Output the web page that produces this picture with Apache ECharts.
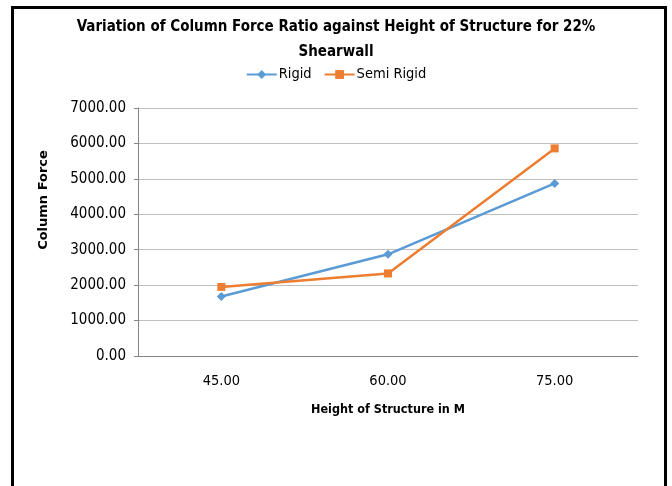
<!DOCTYPE html>
<html><head><meta charset="utf-8">
<script src="https://cdn.jsdelivr.net/npm/echarts@6/dist/echarts.min.js"></script>
<style>html,body{margin:0;padding:0;background:#fff}#c{width:672px;height:486px}</style>
</head><body><div id="c"></div>
<script>
const categories = ['45.00', '60.00', '75.00'];
const rigid = [1680, 2870, 4870];
const semiRigid = [1950, 2330, 5860];
const yTicks = [0, 1000, 2000, 3000, 4000, 5000, 6000, 7000];
const FONT = "'Liberation Sans Narrow', 'DejaVu Sans Condensed', sans-serif";

const chart = echarts.init(document.getElementById('c'), null, {renderer: 'canvas'});
chart.setOption({
  backgroundColor: '#fff',
  animation: false,
  title: {
    text: 'Variation of Column Force Ratio against Height of Structure for 22%\nShearwall',
    left: 'center', top: 10,
    textStyle: {fontFamily: FONT, fontSize: 15, fontWeight: 'bold', color: '#000', lineHeight: 25}
  },
  legend: {
    top: 62, left: 'center', itemWidth: 30, itemHeight: 11, itemGap: 12,
    textStyle: {fontFamily: FONT, fontSize: 14.5, color: '#000', padding: [0,0,0,-3]},
    data: ['Rigid', 'Semi Rigid']
  },
  grid: {left: 138, right: 34, top: 108, bottom: 130},
  xAxis: {
    type: 'category', data: categories,
    axisLine: {lineStyle: {color: '#868686'}},
    axisTick: {show: false},
    axisLabel: {fontFamily: FONT, fontSize: 14.5, color: '#000', margin: 18},
    name: 'Height of Structure in M', nameLocation: 'middle', nameGap: 47,
    nameTextStyle: {fontFamily: FONT, fontSize: 12.5, fontWeight: 'bold', color: '#000'}
  },
  yAxis: {
    type: 'value', min: yTicks[0], max: yTicks[yTicks.length-1], interval: 1000,
    axisLine: {show: true, lineStyle: {color: '#868686'}},
    axisTick: {show: true, length: 4, lineStyle: {color: '#868686'}},
    splitLine: {lineStyle: {color: '#bfbfbf'}},
    axisLabel: {fontFamily: FONT, fontSize: 15, color: '#000', margin: 12, formatter: v => v.toFixed(2)},
    name: 'Column Force', nameLocation: 'middle', nameGap: 88,
    nameTextStyle: {fontFamily: "'DejaVu Sans', sans-serif", fontSize: 13, fontWeight: 'bold', color: '#000', padding: [0,0,0,64]}
  },
  series: [
    {name: 'Rigid', type: 'line', data: rigid, symbol: 'diamond', symbolSize: 9,
     lineStyle: {color: '#5B9BD5', width: 2.5}, itemStyle: {color: '#5B9BD5'}},
    {name: 'Semi Rigid', type: 'line', data: semiRigid, symbol: 'rect', symbolSize: 8,
     lineStyle: {color: '#ED7D31', width: 2.5}, itemStyle: {color: '#ED7D31'}}
  ],
  graphic: [{
    type: 'rect', shape: {x: 12.5, y: 7.5, width: 653, height: 520},
    style: {fill: 'none', stroke: '#000', lineWidth: 3}, silent: true
  }]
});
</script></body></html>
